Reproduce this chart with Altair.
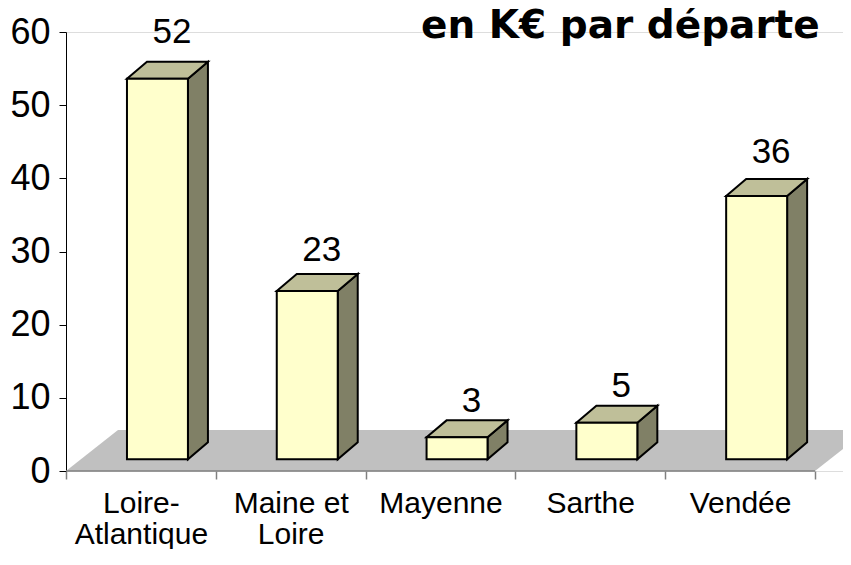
import altair as alt
import pandas as pd

# ---- data ----
categories = ["Loire-\nAtlantique", "Maine et\nLoire", "Mayenne", "Sarthe", "Vendée"]
values = [52, 23, 3, 5, 36]
title_text = "en K€ par départe"
y_ticks = [0, 10, 20, 30, 40, 50, 60]

# ---- 3D styling constants (in data units) ----
N = len(categories)
OX = 0.407      # front face left offset inside the category band
BW = 0.407      # front face width
OY = 1.6        # front face raised above the floor front edge
DX = 0.1335     # bar depth, horizontal
DY = 2.32       # bar depth, vertical
FDX = 0.347     # floor depth, horizontal
FDY = 5.6       # floor depth, vertical
XMAX = 5.187

FRONT = "#ffffcc"
TOP = "#bfbf99"
SIDE = "#808066"
FLOOR = "#c0c0c0"

rows_front, rows_side, rows_top, rows_lab = [], [], [], []
for i, (c, v) in enumerate(zip(categories, values)):
    rows_front.append({"cat": c, "x": i + OX, "x2": i + OX + BW, "y": OY, "y2": v + OY})
    rows_side.append({"cat": c, "x": i + OX + BW, "lo": OY, "hi": v + OY})
    rows_side.append({"cat": c, "x": i + OX + BW + DX, "lo": OY + DY, "hi": v + OY + DY})
    rows_top.append({"cat": c, "y": v + OY, "xl": i + OX, "xr": i + OX + BW})
    rows_top.append({"cat": c, "y": v + OY + DY, "xl": i + OX + DX, "xr": i + OX + BW + DX})
    rows_lab.append({"cat": c, "x": i + 0.707, "y": v * 1.03 + 5.0, "t": str(v)})

front = pd.DataFrame(rows_front)
side = pd.DataFrame(rows_side)
top = pd.DataFrame(rows_top)
labs = pd.DataFrame(rows_lab)
floor = pd.DataFrame([
    {"y": 0, "xl": 0, "xr": N},
    {"y": FDY, "xl": FDX, "xr": N + FDX},
])
baseline = pd.DataFrame([{"x": 0, "x2": N, "y": 0}])

# ---- axes ----
parts = []
for i, c in enumerate(categories):
    arr = "[" + ",".join("'" + l + "'" for l in c.split("\n")) + "]"
    parts.append(f"datum.value == {i + 0.5} ? {arr} : ")
label_expr = "".join(parts) + "''"

xscale = alt.Scale(domain=[0, XMAX], nice=False, zero=False)
yscale = alt.Scale(domain=[0, 60], nice=False)

xaxis = alt.Axis(
    title=None,
    values=[k / 2 for k in range(0, 2 * N + 1)],
    labelExpr=label_expr,
    domain=False,
    grid=False,
    tickColor="#808080",
    tickSize=8,
    tickWidth=1.5,
    tickOpacity={"condition": {"test": "datum.value % 1 != 0", "value": 0}, "value": 1},
    labelFont="Liberation Sans",
    labelFontSize=30,
    labelColor="black",
    labelBaseline="top",
    labelPadding=9,
    labelLineHeight=31,
    labelAlign="center",
    labelOverlap=False,
    labelFlush=False,
    labelBound=False,
)
yaxis = alt.Axis(
    title=None,
    values=y_ticks,
    domainColor="black",
    domainWidth=1,
    grid=False,
    tickColor="black",
    tickSize=7,
    labelFont="Liberation Sans",
    labelFontSize=36,
    labelColor="black",
    labelPadding=9,
)


def X(f):
    return alt.X(f, type="quantitative", scale=xscale, axis=xaxis)


def Y(f):
    return alt.Y(f, type="quantitative", scale=yscale, axis=yaxis)


floor_layer = alt.Chart(floor).mark_area(orient="horizontal", color=FLOOR, clip=True).encode(
    y=Y("y"), x=X("xl"), x2="xr"
)
base_layer = alt.Chart(baseline).mark_rule(color="#808080", strokeWidth=1.5).encode(
    x=X("x"), x2="x2", y=Y("y")
)
side_layer = alt.Chart(side).mark_area(
    fill=SIDE, stroke="black", strokeWidth=2, strokeJoin="miter"
).encode(x=X("x"), y=Y("hi"), y2="lo", detail="cat:N")
top_layer = alt.Chart(top).mark_area(
    orient="horizontal", fill=TOP, stroke="black", strokeWidth=2, strokeJoin="miter"
).encode(y=Y("y"), x=X("xl"), x2="xr", detail="cat:N")
front_layer = alt.Chart(front).mark_rect(
    fill=FRONT, stroke="black", strokeWidth=2
).encode(x=X("x"), x2="x2", y=Y("y"), y2="y2")
lab_layer = alt.Chart(labs).mark_text(
    font="Liberation Sans", fontSize=35, color="black", baseline="alphabetic", align="center"
).encode(x=X("x"), y=Y("y"), text="t:N")

chart = alt.layer(
    floor_layer, base_layer, side_layer, top_layer, front_layer, lab_layer
).properties(
    width=777,
    height=439,
    autosize=alt.AutoSizeParams(type="none"),
    padding={"left": 58, "top": 24, "right": 0, "bottom": 78},
    title=alt.TitleParams(
        text=title_text,
        anchor="start",
        frame="group",
        dx=355,
        dy=63,
        offset=0,
        font="DejaVu Sans",
        fontWeight="bold",
        fontSize=39,
        color="black",
        baseline="alphabetic",
    ),
).configure_view(stroke=None).configure(background="white")

chart.save("out.html", embed_options={"renderer": "svg", "actions": False})
